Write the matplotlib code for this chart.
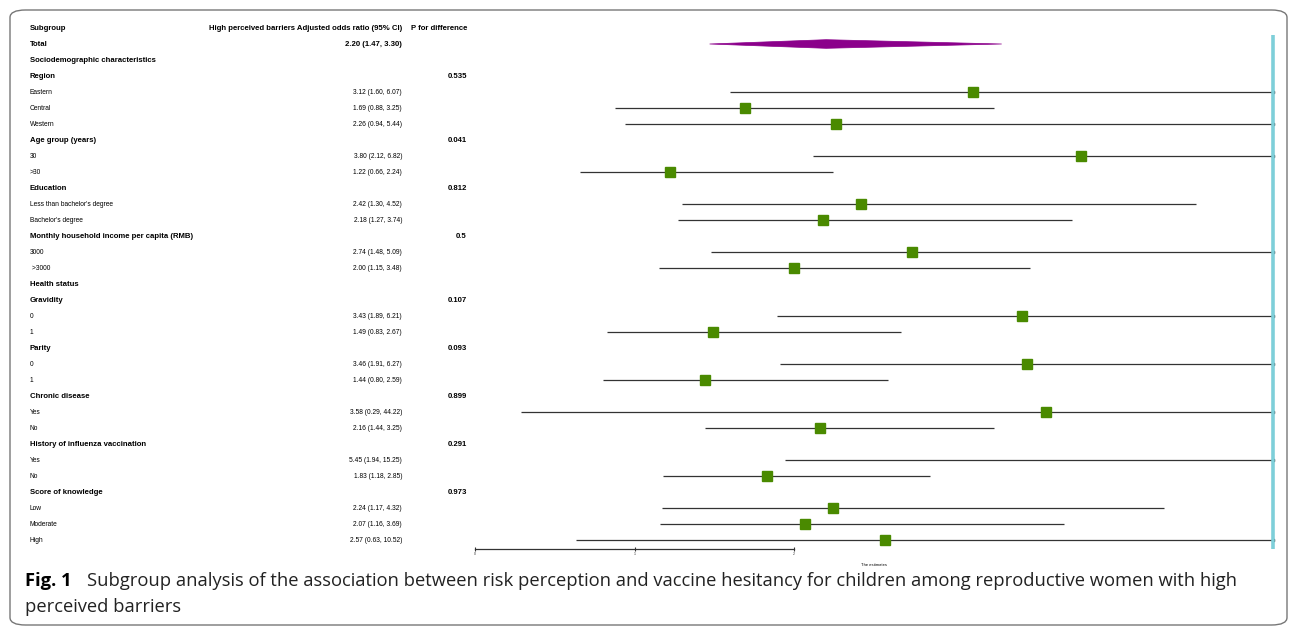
import matplotlib.pyplot as plt
import numpy as np
from matplotlib.patches import FancyBboxPatch, Polygon
from matplotlib.transforms import blended_transform_factory

# Дані таблиці
labels = ["Total", "Sociodemographic characteristics", "Region", "Eastern", "Central", "Western",
          "Age group (years)", "30", ">30", "Education", "Less than bachelor's degree",
          "Bachelor's degree", "Monthly household income per capita (RMB)", "3000", " >3000",
          "Health status", "Gravidity", "0", "1", "Parity", "0", "1", "Chronic disease", "Yes", "No",
          "History of influenza vaccination", "Yes", "No", "Score of knowledge", "Low", "Moderate", "High"]
bold_rows = [1, 1, 1, 0, 0, 0, 1, 0, 0, 1, 0, 0, 1, 0, 0, 1, 1, 0, 0, 1, 0, 0, 1, 0, 0, 1, 0, 0, 1, 0, 0, 0]
est = [2.20, np.nan, np.nan, 3.12, 1.69, 2.26, np.nan, 3.80, 1.22, np.nan, 2.42, 2.18, np.nan, 2.74, 2.00,
       np.nan, np.nan, 3.43, 1.49, np.nan, 3.46, 1.44, np.nan, 3.58, 2.16, np.nan, 5.45, 1.83,
       np.nan, 2.24, 2.07, 2.57]
low = [1.47, np.nan, np.nan, 1.60, 0.88, 0.94, np.nan, 2.12, 0.66, np.nan, 1.30, 1.27, np.nan, 1.48, 1.15,
       np.nan, np.nan, 1.89, 0.83, np.nan, 1.91, 0.80, np.nan, 0.29, 1.44, np.nan, 1.94, 1.18,
       np.nan, 1.17, 1.16, 0.63]
high = [3.30, np.nan, np.nan, 6.07, 3.25, 5.44, np.nan, 6.82, 2.24, np.nan, 4.52, 3.74, np.nan, 5.09, 3.48,
        np.nan, np.nan, 6.21, 2.67, np.nan, 6.27, 2.59, np.nan, 44.22, 3.25, np.nan, 15.25, 2.85,
        np.nan, 4.32, 3.69, 10.52]
p_values = {"Region": "0.535", "Age group (years)": "0.041", "Education": "0.812",
            "Monthly household income per capita (RMB)": "0.5", "Gravidity": "0.107", "Parity": "0.093",
            "Chronic disease": "0.899", "History of influenza vaccination": "0.291",
            "Score of knowledge": "0.973"}
x_ticks = [0, 1, 2]
xmax = 5

W, H = 1295, 628
fig = plt.figure(figsize=(W / 100, H / 100), dpi=100)
plt.rcParams['font.family'] = ['Liberation Sans', 'DejaVu Sans']

# Рамка навколо рисунка
frame = FancyBboxPatch((10 / W, 3 / H), 1277 / W, 615 / H, boxstyle="round,pad=0,rounding_size=0.012",
                       transform=fig.transFigure, fill=False, edgecolor='#777777', linewidth=1)
fig.patches.append(frame)

# Осі для лісового графіка (рядок i -> піксель 28 + 16*i)
left, right = 475 / W, 1273 / W
bottom, top = 1 - 549 / H, 1 - 20 / H
ax = fig.add_axes([left, bottom, right - left, top - bottom])
ax.set_xlim(0, xmax)
ax.set_ylim((549 - 28) / 16, (20 - 28) / 16)
for s in ['top', 'right', 'left']:
    ax.spines[s].set_visible(False)
ax.spines['bottom'].set_bounds(0, 2)
ax.spines['bottom'].set_color('#333333')
ax.spines['bottom'].set_linewidth(0.9)
ax.set_yticks([])
ax.set_xticks(x_ticks)
ax.set_xticklabels([str(t) for t in x_ticks])
ax.tick_params(axis='x', direction='inout', length=3, width=0.8, pad=1, labelsize=2.5, colors='#333333')
ax.set_xlabel('The estimates', fontsize=3, labelpad=5)
ax.patch.set_alpha(0)

rows = np.arange(1, len(labels) + 1)

# Довірчі інтервали та точкові оцінки
for r, e, lo, hi in zip(rows[1:], est[1:], low[1:], high[1:]):
    if np.isnan(e):
        continue
    ax.plot([lo, hi], [r, r], color='#333333', linewidth=0.9, solid_capstyle='butt')
    if hi > xmax:
        ax.plot([xmax], [r], marker='s', markersize=1.6, color='#111111', clip_on=False)
    ax.plot([e], [r], marker='s', markersize=7.2, color='#4a8a00', linestyle='none')

# Ромб для загальної оцінки
d = 0.27
diamond = Polygon([[low[0], rows[0]], [est[0], rows[0] - d], [high[0], rows[0]], [est[0], rows[0] + d]],
                  closed=True, facecolor='#8b008b', edgecolor='#8b008b', linewidth=0.5)
ax.add_patch(diamond)

# Вертикальна лінія справа
ax.vlines(xmax, 0.45, (549 - 28) / 16, color='#7ecfd9', linewidth=2.6, clip_on=False)

# Текстова таблиця
tr = blended_transform_factory(fig.transFigure, ax.transData)
x_lab, x_est, x_p = 30 / W, 402 / W, 467 / W
ax.text(x_lab, 0, 'Subgroup', transform=tr, fontsize=5.6, fontweight='bold', va='center', ha='left')
ax.text(x_est, 0, 'High perceived barriers Adjusted odds ratio (95% CI)', transform=tr,
        fontsize=5.6, fontweight='bold', va='center', ha='right')
ax.text(x_p, 0, 'P for difference', transform=tr, fontsize=5.6, fontweight='bold', va='center', ha='right')

for r, lab, b, e, lo, hi in zip(rows, labels, bold_rows, est, low, high):
    w = 'bold' if b else 'normal'
    fs = 5.6 if b else 4.8
    ax.text(x_lab, r, lab, transform=tr, fontsize=fs, fontweight=w, va='center', ha='left')
    if not np.isnan(e):
        ax.text(x_est, r, f"{e:.2f} ({lo:.2f}, {hi:.2f})", transform=tr, fontsize=fs,
                fontweight=w, va='center', ha='right')
    if lab in p_values:
        ax.text(x_p, r, p_values[lab], transform=tr, fontsize=5.6, fontweight='bold',
                va='center', ha='right')

# Підпис рисунка
cap_font = ['Open Sans', 'DejaVu Sans']
fig.text(25 / W, 1 - 581 / H, 'Fig. 1', fontsize=13.2, fontweight='bold', family=cap_font, va='center')
fig.text(87 / W, 1 - 581 / H,
         'Subgroup analysis of the association between risk perception and vaccine hesitancy for children '
         'among reproductive women with high', fontsize=13.2, family=cap_font, va='center', color='#222222')
fig.text(25 / W, 1 - 607 / H, 'perceived barriers', fontsize=13.2, family=cap_font, va='center',
         color='#222222')

plt.savefig('out.png', dpi=100)
